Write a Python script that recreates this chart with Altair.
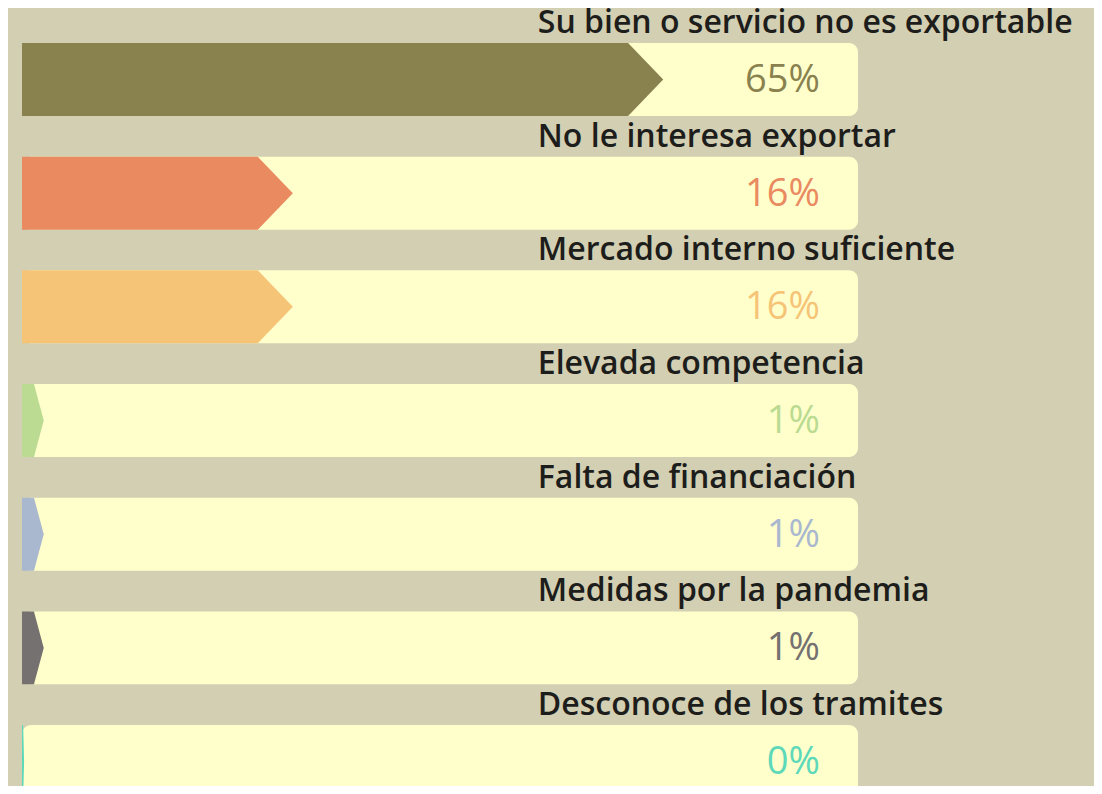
import altair as alt
import pandas as pd

categories = [
    "Su bien o servicio no es exportable",
    "No le interesa exportar",
    "Mercado interno suficiente",
    "Elevada competencia",
    "Falta de financiación",
    "Medidas por la pandemia",
    "Desconoce de los tramites",
]
values = [65, 16, 16, 1, 1, 1, 0]
# drawn bar lengths, as share of the track
bar_lengths = [76.7, 32.4, 32.4, 2.6, 2.6, 2.6, 0.25]
colors = ["#89814e", "#e98a60", "#f6c477", "#badb91", "#aab8cf", "#747170", "#5dd9b9"]

HALF = 0.321  # half track thickness in row units
n = len(categories)

tracks = pd.DataFrame({
    "cat": categories,
    "y0": [i - HALF for i in range(n)],
    "y1": [i + HALF for i in range(n)],
    "x0": [0] * n,
    "x1": [100] * n,
})

arrows = []
for i, (c, L) in enumerate(zip(categories, bar_lengths)):
    depth = min(4.2, 0.45 * L)
    body = L - depth
    arrows.append({"cat": c, "ty": i - HALF, "tx": body, "tb": 0, "k": 0})
    arrows.append({"cat": c, "ty": i, "tx": L, "tb": 0, "k": 1})
    arrows.append({"cat": c, "ty": i + HALF, "tx": body, "tb": 0, "k": 2})
arrows = pd.DataFrame(arrows)

labels = pd.DataFrame({
    "cat": categories,
    "ly": [i - HALF - 0.088 for i in range(n)],
    "py": [i + 0.11 for i in range(n)],
    "pct": [f"{v}%" for v in values],
})

xscale = alt.Scale(domain=[-1.675, 128.23], nice=False, zero=False)
yscale = alt.Scale(domain=[-0.629, 6.215], nice=False, zero=False, reverse=True)
cscale = alt.Scale(domain=categories, range=colors)

track_layer = alt.Chart(tracks).mark_rect(color="#ffffcc", cornerRadius=9).encode(
    x=alt.X("x0:Q", scale=xscale, axis=None),
    x2="x1:Q",
    y=alt.Y("y0:Q", scale=yscale, axis=None),
    y2="y1:Q",
)

arrow_layer = alt.Chart(arrows).mark_area(orient="horizontal", interpolate="linear").encode(
    y=alt.Y("ty:Q", scale=yscale, axis=None),
    x=alt.X("tx:Q", scale=xscale, axis=None, stack=None),
    x2="tb:Q",
    color=alt.Color("cat:N", scale=cscale, legend=None),
    detail="cat:N",
)

cat_text = alt.Chart(labels).mark_text(
    align="left", baseline="alphabetic", font="Open Sans", fontSize=32,
    fontWeight=600, color="#1d1d1b",
).encode(
    x=alt.datum(61.7, scale=xscale),
    y=alt.Y("ly:Q", scale=yscale, axis=None),
    text="cat:N",
)

pct_text = alt.Chart(labels).mark_text(
    align="right", baseline="alphabetic", font="Open Sans", fontSize=38,
    fontWeight=400,
).encode(
    x=alt.datum(95.45, scale=xscale),
    y=alt.Y("py:Q", scale=yscale, axis=None),
    text="pct:N",
    color=alt.Color("cat:N", scale=cscale, legend=None),
)

chart = alt.layer(track_layer, arrow_layer, cat_text, pct_text).properties(
    width=1086, height=778, background="#d3cfb2", padding=0,
    autosize=alt.AutoSizeParams(type="none"),
).configure_view(stroke=None)

chart.save("out.html", embed_options={"renderer": "svg", "actions": False})
